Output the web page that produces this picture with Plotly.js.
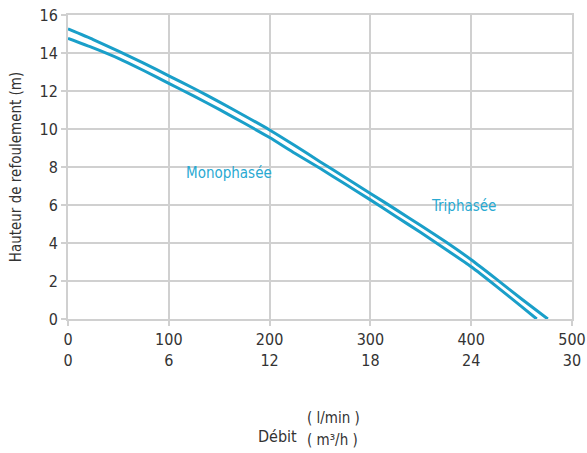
<!DOCTYPE html>
<html>
<head>
<meta charset="utf-8">
<script src="https://cdn.plot.ly/plotly-3.0.1.min.js"></script>
<style>html,body{margin:0;padding:0;background:#fff;}#chart{width:587px;height:453px;}</style>
</head>
<body>
<div id="chart"></div>
<script>
// Flow (l/min) and head (m) for each curve
const triFlow = [0, 25, 50, 75, 100, 125, 150, 175, 200, 225, 250, 275, 300, 325, 350, 375, 400, 425, 450, 476];
const triHead = [15.27, 14.71, 14.10, 13.47, 12.80, 12.13, 11.43, 10.70, 9.95, 9.13, 8.28, 7.45, 6.61, 5.77, 4.92, 4.05, 3.12, 2.10, 1.05, 0];
const monoFlow = [0, 25, 50, 75, 100, 125, 150, 175, 200, 225, 250, 275, 300, 325, 350, 375, 400, 425, 450, 465];
const monoHead = [14.77, 14.27, 13.72, 13.08, 12.40, 11.73, 11.03, 10.30, 9.55, 8.72, 7.93, 7.10, 6.27, 5.41, 4.55, 3.66, 2.75, 1.72, 0.65, 0];

const xTickVals = [0, 100, 200, 300, 400, 500];
const xTickLpm = ['0', '100', '200', '300', '400', '500'];
const xTickM3h = ['0', '6', '12', '18', '24', '30'];
const yTickVals = [0, 2, 4, 6, 8, 10, 12, 14, 16];

const FONT = '"DejaVu Sans Condensed", "Liberation Sans Narrow", "Roboto", sans-serif';
const BLUE = '#1a9fc9';
const GRID = '#d0d0d0';

const traces = [
  {x: triFlow, y: triHead, mode: 'lines', line: {color: BLUE, width: 3, shape: 'spline', smoothing: 0.5}, hoverinfo: 'skip', name: 'Triphasée'},
  {x: monoFlow, y: monoHead, mode: 'lines', line: {color: BLUE, width: 3, shape: 'spline', smoothing: 0.5}, hoverinfo: 'skip', name: 'Monophasée'}
];

const layout = {
  width: 587, height: 453,
  margin: {l: 68, r: 15, t: 15, b: 134},
  paper_bgcolor: '#fff', plot_bgcolor: '#fff',
  showlegend: false,
  font: {family: FONT, size: 16, color: '#333'},
  xaxis: {
    range: [0, 500], tickmode: 'array', tickvals: xTickVals,
    ticktext: xTickVals.map((v, i) => xTickLpm[i] + '<br>' + xTickM3h[i]),
    showgrid: true, gridcolor: GRID, gridwidth: 2,
    showline: true, linecolor: GRID, linewidth: 2, mirror: true,
    zeroline: false, ticks: 'outside', ticklen: 5, tickcolor: GRID, tickwidth: 2,
    ticklabeloverflow: 'allow',
    tickfont: {family: FONT, size: 16, color: '#333'}, fixedrange: true
  },
  yaxis: {
    range: [0, 16], tickmode: 'array', tickvals: yTickVals,
    showgrid: true, gridcolor: GRID, gridwidth: 2,
    showline: true, linecolor: GRID, linewidth: 2, mirror: true,
    zeroline: false, ticks: 'outside', ticklen: 5, tickcolor: GRID, tickwidth: 2,
    ticklabeloverflow: 'allow',
    tickfont: {family: FONT, size: 16, color: '#333'},
    title: {text: 'Hauteur de refoulement (m)', font: {family: FONT, size: 15, color: '#333'}, standoff: 14},
    fixedrange: true
  },
  annotations: [
    {x: 160, y: 7.68, xref: 'x', yref: 'y', text: 'Monophasée', showarrow: false, font: {family: FONT, size: 15, color: '#29a9d2'}},
    {x: 392, y: 5.95, xref: 'x', yref: 'y', text: 'Triphasée', showarrow: false, font: {family: FONT, size: 15, color: '#29a9d2'}},
    {x: (277 - 68) / 504, y: (319 - 436) / 304, xref: 'paper', yref: 'paper', xanchor: 'center', yanchor: 'middle', text: 'Débit', showarrow: false, font: {family: FONT, size: 16, color: '#333'}},
    {x: (333 - 68) / 504, y: (319 - 418) / 304, xref: 'paper', yref: 'paper', xanchor: 'center', yanchor: 'middle', text: '( l/min )', showarrow: false, font: {family: FONT, size: 15, color: '#333'}},
    {x: (332 - 68) / 504, y: (319 - 440) / 304, xref: 'paper', yref: 'paper', xanchor: 'center', yanchor: 'middle', text: '( m³/h )', showarrow: false, font: {family: FONT, size: 15, color: '#333'}}
  ]
};

Plotly.newPlot('chart', traces, layout, {staticPlot: true, displayModeBar: false});
</script>
</body>
</html>
